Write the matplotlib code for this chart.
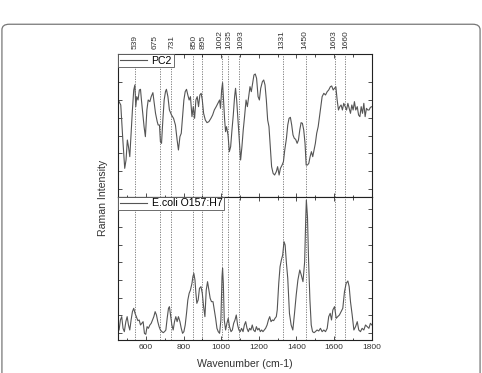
import matplotlib
matplotlib.use("Agg")
import matplotlib.pyplot as plt
from matplotlib.patches import FancyBboxPatch
import matplotlib.transforms as mtransforms

# PC2 loading spectrum (wavenumber, relative intensity)
pc2_wn = [456, 465, 476, 486, 493, 500, 506, 513, 520, 527, 534, 540, 545, 550, 557, 564, 570, 575,
          582, 589, 596, 604, 611, 620, 627, 636, 643, 650, 659, 664, 671, 676, 682, 689, 696, 703,
          708, 716, 724, 735, 746, 756, 765, 772, 780, 787, 794, 801, 808, 815, 822, 829, 836, 844,
          851, 858, 865, 872, 879, 886, 893, 899, 906, 915, 924, 934, 945, 954, 963, 973, 982, 991,
          996, 1002, 1007, 1012, 1018, 1023, 1028, 1036, 1043, 1050, 1057, 1064, 1071, 1076, 1082,
          1089, 1096, 1103, 1110, 1117, 1124, 1132, 1139, 1146, 1153, 1160, 1167, 1174, 1181, 1188,
          1196, 1203, 1210, 1219, 1226, 1233, 1240, 1247, 1254, 1261, 1268, 1276, 1284, 1293, 1300,
          1308, 1315, 1324, 1331, 1338, 1347, 1354, 1361, 1368, 1375, 1382, 1389, 1396, 1404, 1411,
          1418, 1425, 1432, 1439, 1446, 1452, 1459, 1466, 1473, 1480, 1487, 1494, 1501, 1508, 1516,
          1523, 1530, 1537, 1546, 1555, 1564, 1572, 1581, 1588, 1596, 1603, 1610, 1617, 1624, 1631,
          1638, 1645, 1652, 1660, 1667, 1674, 1681, 1688, 1695, 1702, 1709, 1716, 1724, 1731, 1738,
          1745, 1752, 1759, 1766, 1773, 1780, 1787, 1794, 1802]
pc2_int = [285, 275, 170, 85, 110, 170, 150, 120, 190, 260, 320, 335, 270, 300, 290, 320, 322, 290,
           250, 210, 180, 260, 290, 285, 300, 312, 280, 250, 225, 215, 215, 165, 160, 230, 290, 315,
           322, 300, 260, 245, 235, 215, 170, 140, 180, 190, 240, 290, 315, 322, 305, 290, 300, 240,
           270, 235, 290, 300, 270, 305, 310, 290, 250, 230, 222, 225, 235, 245, 260, 270, 280, 290,
           265, 320, 342, 290, 230, 195, 210, 185, 135, 150, 200, 245, 300, 325, 290,
           230, 170, 110, 150, 200, 240, 290, 270, 300, 330, 315, 340, 365, 368, 355,
           300, 290, 325, 345, 350, 335, 290, 230, 210, 150, 90, 70, 65, 75, 90,
           65, 85, 95, 105, 140, 175, 215, 235, 238, 215, 185, 175, 172, 160, 170,
           200, 222, 220, 200, 160, 95, 95, 100, 120, 135, 120, 140, 160, 190, 210,
           240, 270, 300, 310, 305, 315, 320, 330, 332, 320, 325, 330, 290, 260, 270,
           275, 260, 280, 270, 260, 280, 265, 250, 275, 260, 285, 260, 270, 245, 240,
           270, 250, 280, 240, 265, 260, 260, 268, 270]

# E. coli O157:H7 spectrum (wavenumber, relative intensity)
eco_wn = [456, 463, 470, 477, 484, 492, 499, 506, 513, 520, 527, 534, 541, 548, 556, 563, 570, 577,
          584, 591, 598, 605, 612, 620, 627, 634, 641, 648, 655, 662, 669, 676, 684, 691, 698, 705,
          712, 719, 724, 730, 737, 744, 751, 758, 765, 772, 780, 787, 794, 801, 808, 815, 822, 829,
          836, 844, 849, 854, 860, 865, 870, 877, 884, 892, 899, 906, 913, 920, 927, 934, 941, 948,
          956, 963, 970, 977, 984, 991, 998, 1004, 1007, 1011, 1016, 1023, 1030, 1037, 1044, 1052,
          1059, 1066, 1073, 1080, 1087, 1094, 1101, 1108, 1116, 1123, 1130, 1137, 1144, 1151, 1158,
          1165, 1172, 1180, 1187, 1194, 1201, 1208, 1215, 1222, 1229, 1236, 1244, 1251, 1258, 1265,
          1272, 1279, 1286, 1293, 1298, 1306, 1313, 1320, 1327, 1334, 1340, 1347, 1354, 1363, 1372,
          1381, 1390, 1399, 1408, 1418, 1426, 1435, 1444, 1450, 1453, 1459, 1465, 1472, 1479, 1486,
          1494, 1501, 1510, 1519, 1528, 1537, 1546, 1555, 1564, 1572, 1580, 1587, 1594, 1603, 1612,
          1620, 1629, 1638, 1647, 1656, 1665, 1674, 1681, 1688, 1697, 1706, 1715, 1724, 1732, 1741,
          1750, 1759, 1768, 1777, 1786, 1794, 1802]
eco_int = [30, 60, 70, 35, 25, 55, 70, 45, 30, 60, 85, 95, 80, 70, 58, 60, 45, 50,
           55, 20, 17, 40, 35, 45, 50, 60, 70, 85, 75, 55, 40, 30, 25, 22, 25, 30,
           65, 95, 100, 75, 45, 30, 55, 70, 55, 70, 55, 35, 20, 25, 45, 80, 120, 140,
           150, 170, 190, 200, 180, 140, 110, 120, 155, 160, 140, 100, 70, 150, 175, 150, 125, 115,
           115, 90, 65, 35, 25, 20, 60, 190, 215, 170, 60, 30, 50, 65, 40, 25,
           30, 50, 60, 75, 45, 30, 25, 35, 25, 45, 55, 35, 25, 35, 30,
           45, 30, 25, 40, 30, 35, 25, 30, 25, 30, 35, 45, 60, 70, 55,
           60, 58, 65, 70, 90, 170, 220, 240, 255, 295, 285, 230, 185, 80, 45,
           30, 80, 135, 180, 210, 195, 175, 235, 370, 420, 370, 235, 120, 45, 25,
           22, 25, 30, 27, 35, 25, 30, 25, 35, 70, 80, 60, 90, 100, 65,
           70, 75, 85, 95, 145, 170, 177, 160, 115, 75, 30, 40, 55, 30, 25,
           35, 30, 45, 40, 35, 50, 45]

peak_labels = [539, 675, 731, 850, 895, 1002, 1035, 1093, 1331, 1450, 1603, 1660]
series_names = ["PC2", "E.coli O157:H7"]
x_ticks = [600, 800, 1000, 1200, 1400, 1600, 1800]
pc2_yticks = [22, 76, 130, 183, 237, 290, 345]
eco_yticks = [21, 74, 127, 180, 233, 286, 339, 392]

plt.rcParams['font.family'] = ['Liberation Sans', 'DejaVu Sans']

fig = plt.figure(figsize=(4.82, 3.73), dpi=100)
fig.patch.set_facecolor('white')

# rounded outer frame
frame = FancyBboxPatch((0.004, -0.1), 0.992, 1.035, boxstyle="round,pad=0,rounding_size=0.015",
                       transform=fig.transFigure, facecolor='none', edgecolor='#777777',
                       linewidth=0.9, clip_on=False)
fig.patches.append(frame)

left, width = 0.2455, 0.5253
ax1 = fig.add_axes([left, 0.4727, width, 0.8544 - 0.4727])
ax2 = fig.add_axes([left, 0.0885, width, 0.4727 - 0.0885], sharex=ax1)

line_col = '#555555'
ax1.plot(pc2_wn, pc2_int, color=line_col, lw=0.8, label=series_names[0])
ax2.plot(eco_wn, eco_int, color=line_col, lw=0.8, label=series_names[1])

ax1.set_ylim(0, 427)
ax2.set_ylim(0, 430)
ax1.set_xlim(452, 1800)

for ax, yt in ((ax1, pc2_yticks), (ax2, eco_yticks)):
    for p in peak_labels:
        ax.axvline(p, color='#707070', lw=0.6, ls=(0, (1.5, 1.5)), zorder=1)
    ax.set_yticks(yt)
    ax.set_yticklabels([])
    ax.set_xticks(x_ticks)
    ax.set_xticks(range(500, 1800, 200), minor=True)
    ax.tick_params(axis='both', which='major', direction='in', length=3, width=0.6,
                   top=True, right=True, bottom=True, left=True, colors='#333333',
                   labelsize=6.0, pad=3)
    ax.tick_params(axis='x', which='minor', direction='in', length=1.8, width=0.5,
                   top=True, bottom=True)
    for s in ax.spines.values():
        s.set_linewidth(0.8)
        s.set_color('#222222')
    leg = ax.legend(loc='upper left', borderaxespad=0, fontsize=7.6, handlelength=2.6,
                    handletextpad=0.4, borderpad=0.15, fancybox=False, framealpha=1,
                    edgecolor='#555555')
    leg.get_frame().set_linewidth(0.6)

ax1.tick_params(axis='x', labelbottom=False)
for lab in ax2.get_xticklabels():
    lab.set_color('#333333')

# small horizontal nudges (in wavenumber units) so the rotated labels don't collide
label_nudge = {675: -25, 731: 5, 850: 6, 895: 8, 1002: -8, 1035: 5, 1093: 10,
               1331: -8, 1450: -4, 1603: -4, 1660: 2}
trans = mtransforms.blended_transform_factory(ax1.transData, ax1.transAxes)
for p in peak_labels:
    ax1.text(p + label_nudge.get(p, 0), 1.04, str(p), rotation=90, ha='center', va='bottom',
             fontsize=6.0, color='#333333', transform=trans)

fig.text(0.214, 0.469, 'Raman Intensity', rotation=90, ha='center', va='center',
         fontsize=7.6, color='#333333')
fig.text(left + width / 2, 0.024, 'Wavenumber (cm-1)', ha='center', va='center',
         fontsize=7.6, color='#333333')

fig.savefig('out.png', dpi=100)
